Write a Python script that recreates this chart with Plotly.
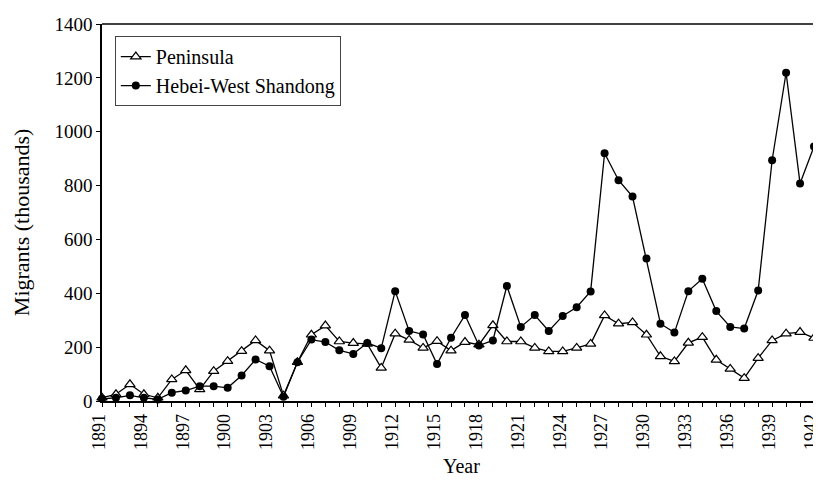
import plotly.graph_objects as go

years = list(range(1891, 1943))
peninsula = [12, 25, 62, 25, 12, 80, 114, 43, 111, 148, 185, 225, 187, 20, 144, 246, 280, 221,
             215, 212, 123, 250, 227, 197, 222, 187, 219, 209, 281, 221, 221, 197, 184, 184, 197,
             212, 318, 287, 292, 246, 166, 147, 216, 237, 153, 119, 85, 159, 225, 250, 256, 234]
hebei = [8, 12, 21, 12, 6, 31, 39, 55, 55, 49, 95, 154, 129, 16, 144, 228, 219, 188,
         175, 215, 196, 408, 260, 247, 137, 235, 319, 206, 225, 427, 275, 319, 260, 316, 348,
         407, 920, 820, 759, 529, 287, 254, 408, 454, 334, 275, 269, 410, 894, 1219, 808, 945]
tick_years = list(range(1891, 1943, 3))

font_family = "Liberation Serif"

fig = go.Figure()
fig.add_trace(go.Scatter(
    x=years, y=peninsula, mode="lines+markers", name="Peninsula",
    line=dict(color="black", width=1.3),
    marker=dict(symbol="triangle-up", size=9, color="white", line=dict(color="black", width=1.2)),
    cliponaxis=False,
))
fig.add_trace(go.Scatter(
    x=years, y=hebei, mode="lines+markers", name="Hebei-West Shandong",
    line=dict(color="black", width=1.3),
    marker=dict(symbol="circle", size=8, color="black"),
    cliponaxis=False,
))

fig.update_layout(
    width=813, height=472,
    margin=dict(l=94, r=7, t=16, b=79, autoexpand=False),
    paper_bgcolor="white", plot_bgcolor="white",
    font=dict(family=font_family, size=19, color="black"),
    showlegend=True,
    legend=dict(x=0.018, y=0.968, xanchor="left", yanchor="top",
                bordercolor="#444", borderwidth=1, bgcolor="white",
                font=dict(family=font_family, size=20),
                itemwidth=30, tracegroupgap=0),
    xaxis=dict(
        range=[1891, 1942], tickmode="array", tickvals=tick_years,
        ticktext=[str(y) for y in tick_years], tickangle=-90,
        showgrid=False, zeroline=False, showline=True, linecolor="black", linewidth=1.5,
        mirror=False, ticks="outside", ticklen=4, tickcolor="black", automargin=False,
        ticklabeloverflow="allow", ticklabelshift=-3,
        minor=dict(dtick=1, ticks="outside", ticklen=4, tickcolor="black"),
        tickfont=dict(family=font_family, size=18),
    ),
    yaxis=dict(
        range=[0, 1400], tickmode="linear", tick0=0, dtick=200,
        showgrid=False, zeroline=False, showline=True, linecolor="black", linewidth=1.5,
        ticks="outside", ticklen=4, tickcolor="black", automargin=False,
        tickfont=dict(family=font_family, size=19),
    ),
    annotations=[
        dict(text="Year", xref="paper", yref="paper", x=0.505, y=-0.172,
             xanchor="center", yanchor="middle", showarrow=False,
             font=dict(family=font_family, size=20)),
        dict(text="Migrants (thousands)", xref="paper", yref="paper", x=-0.112, y=0.475,
             xanchor="center", yanchor="middle", textangle=-90, showarrow=False,
             font=dict(family=font_family, size=22)),
    ],
)
# top border and faint right border
fig.add_shape(type="line", xref="paper", yref="paper", x0=0, x1=1, y0=1, y1=1,
              line=dict(color="black", width=1.5))
fig.add_shape(type="line", xref="paper", yref="paper", x0=1, x1=1, y0=0, y1=1,
              line=dict(color="#cccccc", width=1))

fig.write_html("out.html")
